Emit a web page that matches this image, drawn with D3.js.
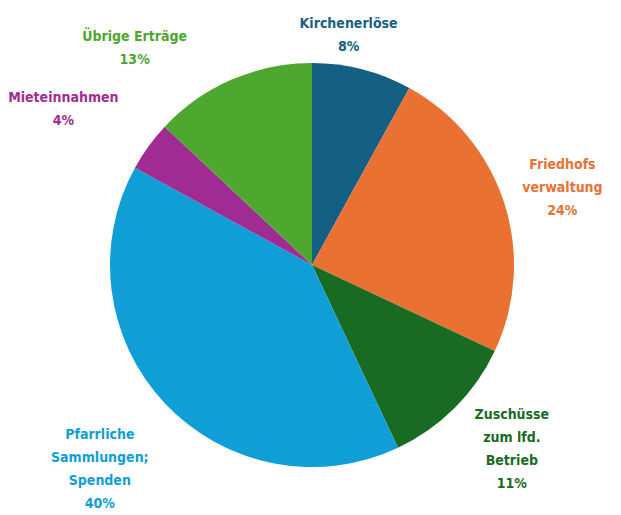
<!DOCTYPE html>
<html lang="de">
<head>
<meta charset="utf-8">
<style>
  body { margin: 0; background: #fff; }
  text { font-family: "Liberation Sans Narrow", "DejaVu Sans Condensed", "Roboto", sans-serif; font-weight: bold; font-size: 14px; }
</style>
</head>
<body>
<script src="https://d3js.org/d3.v7.min.js"></script>
<script>
  width = 621;
  height = 515;
  radius = 202;

  // data, clockwise from 12 o'clock
  const categories = [
    ["Kirchenerlöse"],
    ["Friedhofs", "verwaltung"],
    ["Zuschüsse", "zum lfd.", "Betrieb"],
    ["Pfarrliche", "Sammlungen;", "Spenden"],
    ["Mieteinnahmen"],
    ["Übrige Erträge"]
  ];
  const values = [8, 24, 11, 40, 4, 13];
  const colors = ["#156082", "#E97132", "#196B24", "#0F9ED5", "#A02B93", "#4EA72E"];

  // label nudges (Excel moved some labels away from the slice centre line)
  const labelNudge = [[-24, 6], [1, 3], [7, -9], [-3, 7], [-39, -4], [-80, 7]];

  const cx = 312, cy = 265, lineH = 23, gap = 18;

  const svg = d3.select("body")
    .append("svg")
    .attr("width", width)
    .attr("height", height);

  const total = d3.sum(values);
  const pie = d3.pie().sort(null).value(d => d);
  const arcs = pie(values);
  const arc = d3.arc().innerRadius(0).outerRadius(radius);

  const g = svg.append("g").attr("transform", `translate(${cx},${cy})`);

  g.selectAll("path")
    .data(arcs)
    .join("path")
      .attr("d", arc)
      .attr("fill", (d, i) => colors[i]);

  // labels
  arcs.forEach((d, i) => {
    const lines = categories[i].concat([Math.round(d.value / total * 100) + "%"]);
    const t = g.append("text")
      .attr("fill", colors[i])
      .attr("text-anchor", "middle");
    lines.forEach(l => t.append("tspan").text(l));
    // measure box
    const widths = [];
    t.selectAll("tspan").each(function () { widths.push(this.getComputedTextLength()); });
    const w = d3.max(widths), h = lines.length * lineH;
    const a = (d.startAngle + d.endAngle) / 2;
    const s = Math.sin(a), c = Math.cos(a);
    const edge = Math.min(Math.abs(s) > 1e-6 ? (w / 2) / Math.abs(s) : Infinity,
                          Math.abs(c) > 1e-6 ? (h / 2) / Math.abs(c) : Infinity);
    const R = radius + gap + edge;
    const x = R * s + labelNudge[i][0];
    const y = -R * c + labelNudge[i][1];
    const y0 = y - (lines.length - 1) * lineH / 2;
    t.selectAll("tspan")
      .attr("x", x)
      .attr("y", (l, j) => y0 + j * lineH)
      .attr("dy", "0.35em");
  });
</script>
</body>
</html>
